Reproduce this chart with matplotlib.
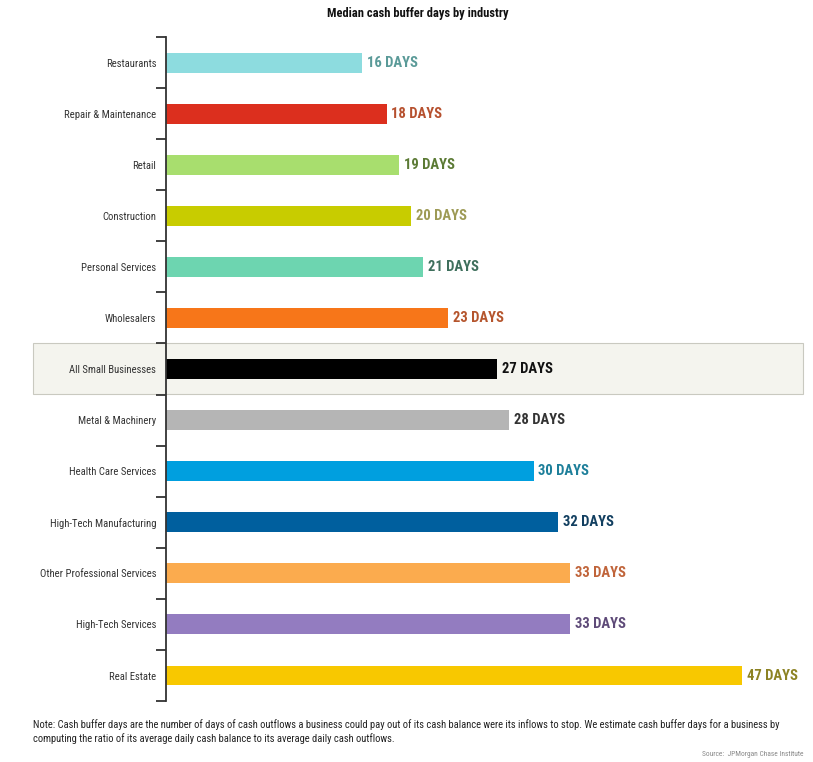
import matplotlib
matplotlib.use("Agg")
import matplotlib.pyplot as plt
from matplotlib.patches import Rectangle

# ------------------------------------------------------------------
# Data
# ------------------------------------------------------------------

industries = [
    "Restaurants", "Repair & Maintenance", "Retail", "Construction",
    "Personal Services", "Wholesalers", "All Small Businesses",
    "Metal & Machinery", "Health Care Services", "High-Tech Manufacturing",
    "Other Professional Services", "High-Tech Services", "Real Estate",
]
buffer_days = [16, 18, 19, 20, 21, 23, 27, 28, 30, 32, 33, 33, 47]
bar_colors = [
    "#8ddcdf", "#dc2f1e", "#a8de6e", "#c8cc00", "#6dd5b0", "#f77619",
    "#000000", "#b5b5b5", "#009fdf", "#005f9e", "#fbab4e", "#937cc0",
    "#f8c800",
]
label_colors = [
    "#5a9a98", "#b6502e", "#5b7a34", "#9d9a55", "#3e6f5c", "#b5552d",
    "#111111", "#333333", "#1d7f9a", "#123f60", "#c0643a", "#5e4a78",
    "#8c8223",
]
highlight = "All Small Businesses"

note = ("Note: Cash buffer days are the number of days of cash outflows a business could pay out of its "
        "cash balance were its inflows to stop. We estimate cash buffer days for a business by\n"
        "computing the ratio of its average daily cash balance to its average daily cash outflows.")

plt.rcParams["font.family"] = ["Roboto Condensed", "Lato", "DejaVu Sans"]

fig = plt.figure(figsize=(8.13, 7.62), dpi=100)
ax = fig.add_axes([0.2042, 0.0800, 0.7835, 0.8714])

ypos = list(range(len(industries)))
ax.barh(ypos, buffer_days, height=0.39, color=bar_colors, zorder=3)
ax.set_ylim(len(industries) - 0.5, -0.5)
ax.set_xlim(0, 52)

for y, v, c in zip(ypos, buffer_days, label_colors):
    ax.text(v + 0.4, y, f"{v} DAYS", va="center", ha="left",
            fontsize=10.5, fontweight="bold", color=c, zorder=4)

# highlighted row
hi = industries.index(highlight)
ax.add_patch(Rectangle((-10.87, hi - 0.5), 62.87, 0.98, facecolor="#f4f4ee",
                       edgecolor="#c9c9c0", linewidth=0.8, clip_on=False, zorder=1))

# axes styling
for s in ["top", "right", "bottom"]:
    ax.spines[s].set_visible(False)
ax.spines["left"].set_color("#333333")
ax.spines["left"].set_linewidth(1.3)
ax.spines["left"].set_zorder(5)
ax.set_xticks([])
ax.set_yticks(ypos)
ax.set_yticklabels(industries, fontsize=7.7, color="#333333")
ax.tick_params(axis="y", which="major", length=0, pad=7)
ax.set_yticks([y - 0.5 for y in range(len(industries) + 1)], minor=True)
ax.tick_params(axis="y", which="minor", length=7, width=1.3, color="#333333")

fig.text(0.514, 0.991, "Median cash buffer days by industry", ha="center", va="top",
         fontsize=9, fontweight="bold", color="#111111")
fig.text(0.041, 0.056, note, ha="left", va="top", fontsize=7.6, color="#222222",
         linespacing=1.35)
fig.text(0.988, 0.005, "Source:  JPMorgan Chase Institute", ha="right", va="bottom",
         fontsize=5.3, color="#888888")

fig.savefig("out.png", dpi=100)
